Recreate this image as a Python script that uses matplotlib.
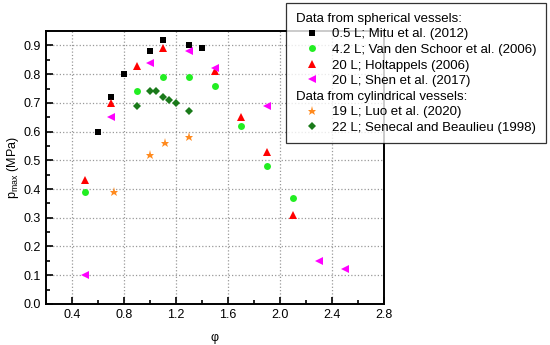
import matplotlib
matplotlib.use("Agg")
import matplotlib.pyplot as plt
from matplotlib.lines import Line2D
from matplotlib.transforms import Affine2D
from matplotlib.ticker import MultipleLocator

plt.rcParams["font.family"] = ["Liberation Sans", "DejaVu Sans"]
plt.rcParams["font.size"] = 9

# spherical vessels
mitu_x = [0.6, 0.7, 0.8, 1.0, 1.1, 1.3, 1.4]
mitu_y = [0.60, 0.72, 0.80, 0.88, 0.92, 0.90, 0.89]
schoor_x = [0.5, 0.9, 1.1, 1.3, 1.5, 1.7, 1.9, 2.1]
schoor_y = [0.39, 0.74, 0.79, 0.79, 0.76, 0.62, 0.48, 0.37]
holt_x = [0.5, 0.7, 0.9, 1.1, 1.5, 1.7, 1.9, 2.1]
holt_y = [0.43, 0.70, 0.83, 0.89, 0.81, 0.65, 0.53, 0.31]
shen_x = [0.5, 0.7, 1.0, 1.3, 1.5, 1.9, 2.3, 2.5]
shen_y = [0.10, 0.65, 0.84, 0.88, 0.82, 0.69, 0.15, 0.12]
# cylindrical vessels
luo_x = [0.72, 1.0, 1.12, 1.3]
luo_y = [0.39, 0.52, 0.56, 0.58]
senecal_x = [0.9, 1.0, 1.05, 1.1, 1.15, 1.2, 1.3]
senecal_y = [0.69, 0.74, 0.74, 0.72, 0.71, 0.70, 0.67]

fig = plt.figure(figsize=(5.5, 3.45), dpi=100)
ax = fig.add_axes([0.0836, 0.119, 0.614, 0.791])

kw = dict(linestyle="none", markeredgewidth=0)
h1, = ax.plot(mitu_x, mitu_y, marker="s", color="black", ms=4.5, **kw)
h2, = ax.plot(schoor_x, schoor_y, marker="o", color="#22ee22", ms=5, **kw)
h3, = ax.plot(holt_x, holt_y, marker="^", color="#ff0000", ms=6, **kw)
h4, = ax.plot(shen_x, shen_y, marker="<", color="#ff00ff", ms=6, **kw)
h5, = ax.plot(luo_x, luo_y, marker="*", color="#ff8a1e", ms=6.5, **kw)
h6, = ax.plot(senecal_x, senecal_y, marker="D", color="#1a7a1a", ms=4.5, **kw)

ax.set_xlim(0.2, 2.8)
ax.set_ylim(0.0, 0.95)
ax.xaxis.set_major_locator(MultipleLocator(0.4))
ax.xaxis.set_minor_locator(MultipleLocator(0.2))
ax.yaxis.set_major_locator(MultipleLocator(0.1))
ax.yaxis.set_minor_locator(MultipleLocator(0.05))
ax.set_xticks([0.4, 0.8, 1.2, 1.6, 2.0, 2.4, 2.8])
ax.tick_params(which="both", direction="in", width=1.2, labelsize=9)
ax.tick_params(which="major", length=5)
ax.tick_params(which="minor", length=3)
ax.grid(True, which="major", linestyle=":", color="#999999", linewidth=0.9)
for s in ax.spines.values():
    s.set_linewidth(1.4)

ax.set_xlabel("φ", fontsize=9, labelpad=8)
ax.set_ylabel("p$_{\\mathregular{max}}$ (MPa)", fontsize=9, labelpad=2)

blank = Line2D([], [], linestyle="none")
handles = [blank, h1, h2, h3, h4, blank, h5, h6]
labels = ["Data from spherical vessels:",
          "0.5 L; Mitu et al. (2012)",
          "4.2 L; Van den Schoor et al. (2006)",
          "20 L; Holtappels (2006)",
          "20 L; Shen et al. (2017)",
          "Data from cylindrical vessels:",
          "19 L; Luo et al. (2020)",
          "22 L; Senecal and Beaulieu (1998)"]
leg = fig.legend(handles, labels, loc="upper right", bbox_to_anchor=(0.993, 0.99),
                 frameon=True, fancybox=False, fontsize=9.5, handlelength=2.5,
                 handletextpad=0.3, labelspacing=0.25, borderpad=0.7,
                 borderaxespad=0)
leg.get_frame().set_edgecolor("black")
leg.get_frame().set_linewidth(0.9)
for i in (0, 5):
    t = leg.get_texts()[i]
    t.set_transform(t.get_transform() + Affine2D().translate(-36, 0))

fig.savefig("out.png", dpi=100)
